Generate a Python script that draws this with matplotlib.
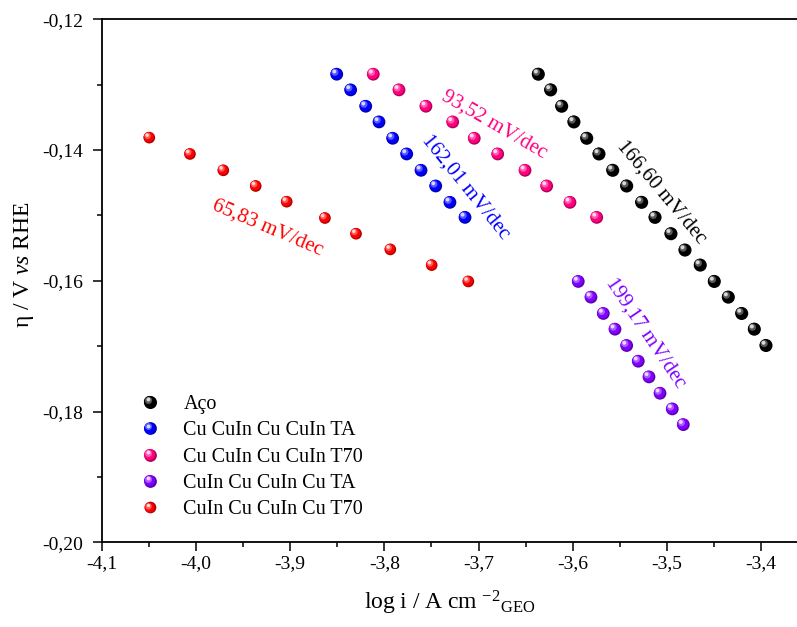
import numpy as np
import matplotlib
matplotlib.use("Agg")
import matplotlib.pyplot as plt
from matplotlib.transforms import offset_copy
from matplotlib.legend_handler import HandlerBase
from matplotlib.lines import Line2D
from matplotlib.ticker import MultipleLocator, FuncFormatter
from matplotlib.colors import to_rgb

plt.rcParams['font.family'] = ['Liberation Serif', 'DejaVu Serif']
plt.rcParams['mathtext.fontset'] = 'custom'
plt.rcParams['mathtext.rm'] = 'Liberation Serif'
plt.rcParams['mathtext.it'] = 'Liberation Serif:italic'

# ---------------- data ----------------
aco_x = [-3.6365, -3.6234, -3.6117, -3.5987, -3.5851, -3.5721, -3.5575, -3.5427, -3.5268,
         -3.5126, -3.4957, -3.4808, -3.4646, -3.4497, -3.4348, -3.4206, -3.4072, -3.3948]
aco_y = [-0.1284, -0.1308, -0.1333, -0.1357, -0.1382, -0.1406, -0.1431, -0.1455, -0.1480,
         -0.1503, -0.1528, -0.1553, -0.1576, -0.1601, -0.1625, -0.1650, -0.1674, -0.1699]

cta_x = [-3.8505, -3.8357, -3.8197, -3.8056, -3.7911, -3.7762, -3.7610, -3.7454, -3.7303, -3.7143]
cta_y = [-0.1284, -0.1308, -0.1333, -0.1357, -0.1382, -0.1406, -0.1431, -0.1455, -0.1480, -0.1503]

c70_x = [-3.8117, -3.7844, -3.7558, -3.7274, -3.7045, -3.6796, -3.6506, -3.6276, -3.6029, -3.5745]
c70_y = [-0.1284, -0.1308, -0.1333, -0.1357, -0.1382, -0.1406, -0.1431, -0.1455, -0.1480, -0.1503]

ita_x = [-3.5941, -3.5806, -3.5675, -3.5551, -3.5427, -3.5304, -3.5190, -3.5073, -3.4943, -3.4826]
ita_y = [-0.1601, -0.1625, -0.1650, -0.1674, -0.1699, -0.1723, -0.1747, -0.1772, -0.1796, -0.1820]

i70_x = [-4.0495, -4.0063, -3.9709, -3.9365, -3.9036, -3.8630, -3.8300, -3.7936, -3.7497, -3.7108]
i70_y = [-0.1381, -0.1406, -0.1431, -0.1455, -0.1479, -0.1504, -0.1528, -0.1552, -0.1576, -0.1601]

labels = ["Aço", "Cu CuIn Cu CuIn TA", "Cu CuIn Cu CuIn T70",
          "CuIn Cu CuIn Cu TA", "CuIn Cu CuIn Cu T70"]
colors = ["#000000", "#0000FF", "#FF0080", "#8000FF", "#FF0000"]
msizes = [9.4, 9.2, 9.2, 9.2, 8.4]

slopes = ["166,60 mV/dec", "162,01 mV/dec", "93,52 mV/dec", "199,17 mV/dec", "65,83 mV/dec"]
slope_pos = [(-3.5055, -0.14638), (-3.7133, -0.14566), (-3.6835, -0.13620),
             (-3.5224, -0.16793), (-3.924, -0.15186)]
slope_rot = [-50, -51, -30, -56, -23]

series = [(aco_x, aco_y), (cta_x, cta_y), (c70_x, c70_y), (ita_x, ita_y), (i70_x, i70_y)]

# ---------------- figure ----------------
fig = plt.figure(figsize=(7.97, 6.27), dpi=100)
ax = fig.add_axes([101.7 / 797, (627 - 542.3) / 627, (797 - 101.7) / 797, (542.3 - 19.3) / 627])


def mix(c, other, t):
    c = np.array(to_rgb(c)); o = np.array(to_rgb(other))
    return tuple(c * (1 - t) + o * t)


def layers(color, d):
    # (size factor, dx, dy (fractions of d), color)
    return [
        (1.00, 0.0, 0.0, mix(color, "black", 0.30)),
        (0.86, -0.05, 0.05, color),
        (0.55, -0.14, 0.15, mix(color, "white", 0.35)),
        (0.30, -0.19, 0.21, mix(color, "white", 0.85)),
    ]


def draw_spheres(ax, x, y, color, d):
    for f, dx, dy, c in layers(color, d):
        tr = offset_copy(ax.transData, fig=fig, x=dx * d, y=dy * d, units='points')
        ax.scatter(x, y, s=(f * d) ** 2, color=c, edgecolors='none', transform=tr,
                   zorder=3, clip_on=False)


class SphereHandler(HandlerBase):
    def __init__(self, color, d):
        super().__init__()
        self.color = color
        self.d = d

    def create_artists(self, legend, orig_handle, xdescent, ydescent, width, height,
                       fontsize, trans):
        cx = width / 2 - xdescent
        cy = height / 2 - ydescent
        arts = []
        for f, dx, dy, c in layers(self.color, self.d):
            l = Line2D([cx + dx * self.d], [cy + dy * self.d], marker='o', linestyle='none',
                       markersize=f * self.d, markerfacecolor=c, markeredgewidth=0,
                       transform=trans)
            arts.append(l)
        return arts


handles = []
hmap = {}
for (x, y), c, lab, d in zip(series, colors, labels, msizes):
    draw_spheres(ax, x, y, c, d)
    h = Line2D([], [], linestyle='none', marker='o', color=c)
    handles.append(h)
    hmap[h] = SphereHandler(c, d)

for txt, (tx, ty), rot, c in zip(slopes, slope_pos, slope_rot, colors):
    ax.text(tx, ty, txt, color=c, fontsize=15, rotation=rot, rotation_mode='anchor',
            ha='center', va='center')

ax.set_xlim(-4.1, -3.3619)
ax.set_ylim(-0.20, -0.12)
ax.xaxis.set_major_locator(MultipleLocator(0.1))
ax.xaxis.set_minor_locator(MultipleLocator(0.05))
ax.yaxis.set_major_locator(MultipleLocator(0.02))
ax.yaxis.set_minor_locator(MultipleLocator(0.01))
ax.xaxis.set_major_formatter(FuncFormatter(lambda v, p: f"{v:.1f}".replace('.', ',')))
ax.yaxis.set_major_formatter(FuncFormatter(lambda v, p: f"{v:.2f}".replace('.', ',')))
ax.tick_params(which='major', direction='out', length=6.5, width=1.1, labelsize=14)
ax.tick_params(axis='x', which='major', pad=3)
ax.tick_params(axis='y', which='major', pad=7)
ax.tick_params(which='minor', direction='out', length=3.5, width=1.1)
ax.tick_params(top=False, right=False, which='both')
for s in ['left', 'bottom', 'top']:
    ax.spines[s].set_linewidth(1.3)
ax.spines['right'].set_visible(False)

ax.set_xlabel(r'$\mathrm{log\ i\ /\ A\ cm\ }^{\mathrm{-2}}{}_{\mathrm{GEO}}$', fontsize=17)
ax.set_ylabel(r'$\mathrm{η\ /\ V}\ \mathit{vs}\ \mathrm{RHE}$', fontsize=17)
ax.xaxis.set_label_coords(0.5, -0.088)
ax.yaxis.set_label_coords(-0.094, 0.53)

ax.legend(handles, labels, handler_map=hmap, loc='upper left',
          bbox_to_anchor=(0.0551, 0.282), frameon=False, fontsize=14.5,
          handlelength=1.0, handletextpad=1.15, labelspacing=0.36, borderpad=0,
          borderaxespad=0)

fig.savefig("out.png", dpi=100)
